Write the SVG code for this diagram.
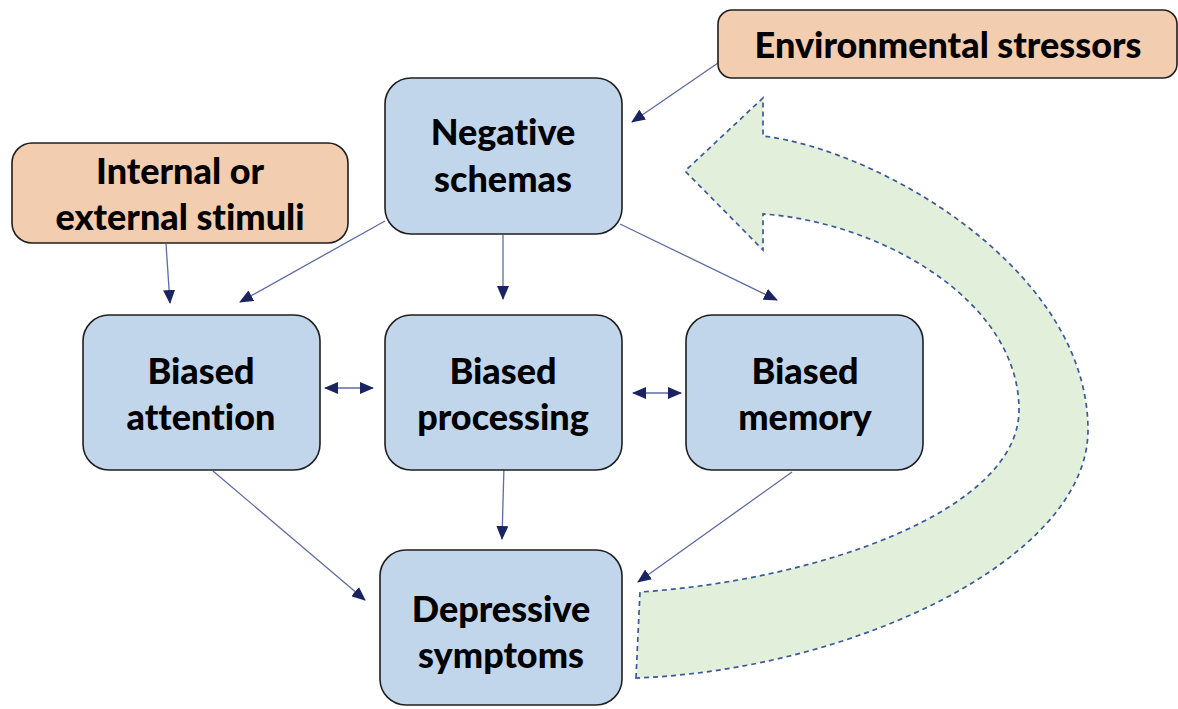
<svg xmlns="http://www.w3.org/2000/svg" width="1178" height="709" viewBox="0 0 1178 709">
  <defs>
    <marker id="head" markerUnits="userSpaceOnUse" markerWidth="14" markerHeight="12" viewBox="0 0 14 12" refX="13" refY="6" orient="auto-start-reverse">
      <path d="M0,0 L14,6 L0,12 z" fill="#1b2463"/>
    </marker>
    <style>
      .box { fill: #c2d6eb; stroke: #1f1f1f; stroke-width: 1.6; }
      .src { fill: #f2cdb0; stroke: #1f1f1f; stroke-width: 1.6; }
      .lbl { font-family: Lato, "Open Sans", "Liberation Sans", sans-serif; font-weight: 900; font-size: 36px; fill: #000; text-anchor: middle; font-variant-ligatures: none; }
      .link { stroke: #5f6aa3; stroke-width: 1.3; fill: none; marker-end: url(#head); }
      .both { marker-start: url(#head); }
      .loop { fill: #e2efda; stroke: #3a5a98; stroke-width: 1.7; stroke-dasharray: 5 4; }
    </style>
  </defs>

  <!-- feedback loop from symptoms back to schemas -->
  <g id="feedback">
    <path class="loop" d="M636 678 L640 592 C820 580 1019 510 1019 410 C1019 300 880 222 763 214 L763 250 L685 171 L763 98 L763 136 C880 150 1088 270 1088 430 C1088 560 850 670 636 678 Z"/>
  </g>

  <g id="connectors">
    <line class="link" x1="718" y1="63" x2="632" y2="122"/>
    <line class="link" x1="166" y1="244" x2="170" y2="303"/>
    <line class="link" x1="385" y1="221" x2="240" y2="302"/>
    <line class="link" x1="503" y1="235" x2="503" y2="299"/>
    <line class="link" x1="620" y1="224" x2="777" y2="300"/>
    <line class="link both" x1="325" y1="388" x2="373" y2="388"/>
    <line class="link both" x1="633" y1="393" x2="681" y2="393"/>
    <line class="link" x1="213" y1="471" x2="365" y2="600"/>
    <line class="link" x1="504" y1="466" x2="502" y2="539"/>
    <line class="link" x1="792" y1="472" x2="638" y2="582"/>
  </g>

  <g id="environmental-stressors">
    <rect class="src" x="718" y="10" width="459" height="68" rx="14"/>
    <text class="lbl" x="948" y="58">Environmental stressors</text>
  </g>

  <g id="internal-external-stimuli">
    <rect class="src" x="12" y="143" width="336" height="100" rx="20"/>
    <text class="lbl" x="180" y="184">Internal or</text>
    <text class="lbl" x="180" y="230">external stimuli</text>
  </g>

  <g id="negative-schemas">
    <rect class="box" x="385" y="78" width="237" height="156" rx="26"/>
    <text class="lbl" x="503" y="145">Negative</text>
    <text class="lbl" x="503" y="192">schemas</text>
  </g>

  <g id="biased-attention">
    <rect class="box" x="83" y="315" width="237" height="155" rx="26"/>
    <text class="lbl" x="201" y="384">Biased</text>
    <text class="lbl" x="201" y="430">attention</text>
  </g>

  <g id="biased-processing">
    <rect class="box" x="385" y="315" width="237" height="155" rx="26"/>
    <text class="lbl" x="503" y="384">Biased</text>
    <text class="lbl" x="503" y="430">processing</text>
  </g>

  <g id="biased-memory">
    <rect class="box" x="686" y="315" width="237" height="155" rx="26"/>
    <text class="lbl" x="805" y="384">Biased</text>
    <text class="lbl" x="805" y="430">memory</text>
  </g>

  <g id="depressive-symptoms">
    <rect class="box" x="380" y="550" width="242" height="155" rx="26"/>
    <text class="lbl" x="501" y="622">Depressive</text>
    <text class="lbl" x="501" y="668">symptoms</text>
  </g>
</svg>
